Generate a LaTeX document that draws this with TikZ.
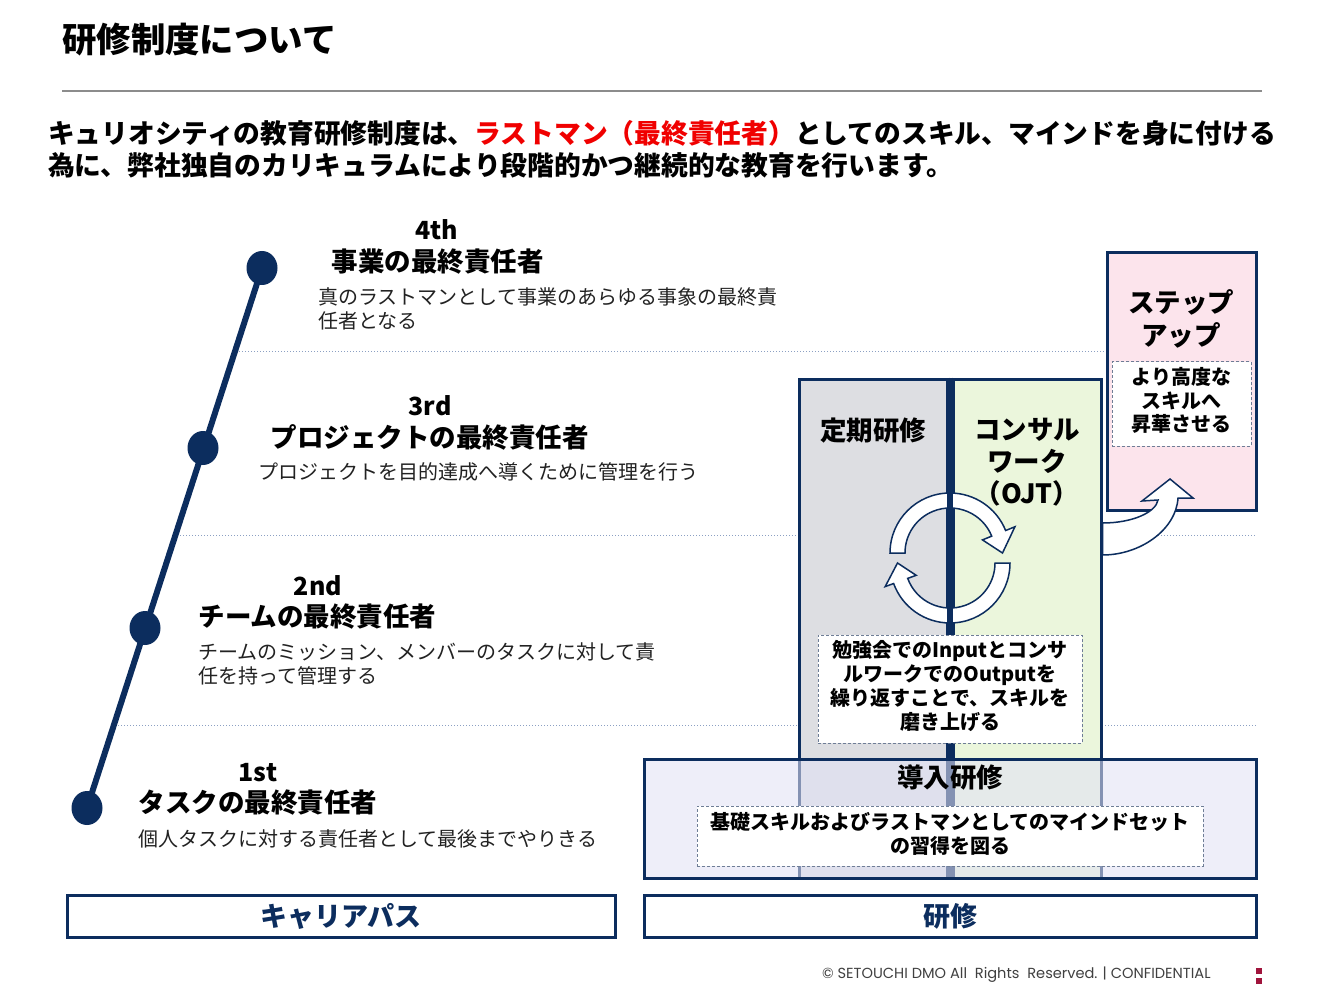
\documentclass[tikz,border=0pt]{standalone}
\usepackage{fontspec}
\setmainfont{Noto Sans CJK JP}
\newfontfamily\footfont{Poppins}
\usetikzlibrary{shapes.geometric,calc}
\definecolor{navy}{RGB}{12,45,94}
\definecolor{darktext}{RGB}{34,34,34}
\definecolor{grayfill}{RGB}{221,222,226}
\definecolor{greenfill}{RGB}{235,246,220}
\definecolor{pinkfill}{RGB}{252,228,236}
\definecolor{lavfill}{RGB}{226,226,246}
\definecolor{dotcol}{RGB}{140,160,195}
\definecolor{dashcol}{RGB}{110,125,150}
\definecolor{redtxt}{RGB}{240,0,0}
\definecolor{markred}{RGB}{160,20,60}
\definecolor{footgray}{RGB}{64,64,64}
\begin{document}
\begin{tikzpicture}[x=1pt,y=1pt,
  hd/.style={font=\bfseries\fontsize{26.5}{30}\selectfont, inner sep=0, text=black},
  num/.style={font=\bfseries\fontsize{25}{28}\selectfont, inner sep=0, text=black},
  desc/.style={font=\fontsize{20}{24.4}\selectfont, inner sep=0, align=left, anchor=west, text=darktext},
  dotline/.style={dotcol, line width=1pt, dotted},
  dot/.style={ellipse, fill=navy, inner sep=0, minimum width=31pt, minimum height=34pt},
  colbox/.style={draw=navy, line width=3pt, inner sep=0, minimum width=148pt, minimum height=499pt},
  dashbox/.style={draw=dashcol, dash pattern=on 3pt off 2pt, line width=1pt, fill=white, inner sep=0},
  boxtxt/.style={font=\bfseries\fontsize{20}{24}\selectfont, align=center, inner sep=0, text=black},
  coltitle/.style={font=\bfseries\fontsize{26.5}{32}\selectfont, align=center, inner sep=0, text=black},
  cyc/.style={fill=white, draw=navy, line width=1.5pt, line join=miter},
  labelbox/.style={draw=navy, line width=3pt, fill=white, inner sep=0, minimum height=42pt, text=navy, font=\bfseries\fontsize{27}{30}\selectfont}
]
\useasboundingbox (0,0) rectangle (1323,-992);
\fill[white] (0,0) rectangle (1323,-992);

% title
\node[anchor=west, inner sep=0, font=\bfseries\fontsize{34.4}{36}\selectfont] (title) at (62,-40) {研修制度について};
\coordinate (rl) at (62,-91);
\coordinate (rr) at (1262,-91);
\draw[gray!90, line width=1.5pt] (rl) -- (rr);
\node[anchor=west, inner sep=0, font=\bfseries\fontsize{26.75}{32}\selectfont] (sub1) at (48,-133) {キュリオシティの教育研修制度は、\textcolor{redtxt}{ラストマン（最終責任者）}としてのスキル、マインドを身に付ける};
\node[anchor=west, inner sep=0, font=\bfseries\fontsize{26.75}{32}\selectfont] (sub2) at (48,-165) {為に、弊社独自のカリキュラムにより段階的かつ継続的な教育を行います。};

% dotted separators
\coordinate (d1a) at (239,-352); \coordinate (d1b) at (1256,-352);
\coordinate (d2a) at (177,-535); \coordinate (d2b) at (1256,-535);
\coordinate (d3a) at (118,-725); \coordinate (d3b) at (1256,-725);
\draw[dotline] (d1a) -- (d1b);
\draw[dotline] (d2a) -- (d2b);
\draw[dotline] (d3a) -- (d3b);

% career path
\coordinate (p1) at (87,-808);
\coordinate (p2) at (145,-628);
\coordinate (p3) at (203,-448);
\coordinate (p4) at (262,-268);
\draw[navy, line width=6pt] (p1) -- (p4);
\node[dot] (c1) at (p1) {};
\node[dot] (c2) at (p2) {};
\node[dot] (c3) at (p3) {};
\node[dot] (c4) at (p4) {};

\node[num] (n4) at (437,-230) {4th};
\node[hd] (h4) at (437.5,-262) {事業の最終責任者};
\node[desc] (t4) at (318,-309) {真のラストマンとして事業のあらゆる事象の最終責\\任者となる};

\node[num] (n3) at (430,-406) {3rd};
\node[hd] (h3) at (429.5,-437) {プロジェクトの最終責任者};
\node[desc] (t3) at (258,-472) {プロジェクトを目的達成へ導くために管理を行う};

\node[num] (n2) at (318,-586) {2nd};
\node[hd] (h2) at (317.5,-617) {チームの最終責任者};
\node[desc] (t2) at (198,-664) {チームのミッション、メンバーのタスクに対して責\\任を持って管理する};

\node[num] (n1) at (258,-773) {1st};
\node[hd] (h1) at (258,-803) {タスクの最終責任者};
\node[desc] (t1) at (138,-839) {個人タスクに対する責任者として最後までやりきる};

% columns
\node[colbox, fill=grayfill] (col1) at (873,-628.5) {};
\node[colbox, fill=greenfill] (col2) at (1027,-628.5) {};
\node[coltitle] (col1t) at (873,-431) {定期研修};
\node[coltitle] (col2t) at (1027,-462) {コンサル\\ワーク\\（OJT）};

% cycle arrows
\coordinate (ca) at (950,-553);
\coordinate (cb) at (950,-563);
\filldraw[cyc] ($(ca)+(180:60pt)$) arc[start angle=180,end angle=22,radius=60pt] -- ($(ca)+(22:70pt)$) -- ($(ca)+(0:52.5pt)$) -- ($(ca)+(22:35pt)$) -- ($(ca)+(22:45pt)$) arc[start angle=22,end angle=180,radius=45pt] -- cycle;
\filldraw[cyc] ($(cb)+(0:60pt)$) arc[start angle=0,end angle=-160,radius=60pt] -- ($(cb)+(-160:69pt)$) -- ($(cb)+(180:52.5pt)$) -- ($(cb)+(-160:36pt)$) -- ($(cb)+(-160:45pt)$) arc[start angle=-160,end angle=0,radius=45pt] -- cycle;
\draw[navy, line width=3pt] (col1.north east) -- (col1.south east);
\draw[navy, line width=3pt] (col2.north west) -- (col2.south west);

\node[dashbox, minimum width=264pt, minimum height=108pt] (midbox) at (950,-689) {};
\node[boxtxt] (midtxt) at (950,-686) {勉強会でのInputとコンサ\\ルワークでのOutputを\\繰り返すことで、スキルを\\磨き上げる};

% step-up box
\node[draw=navy, line width=3pt, fill=pinkfill, inner sep=0, minimum width=149pt, minimum height=257pt] (step) at (1181.5,-381.5) {};
\node[coltitle, font=\bfseries\fontsize{26.5}{33}\selectfont] (stept) at (1181,-318.5) {ステップ\\アップ};
\node[dashbox, minimum width=139pt, minimum height=84pt] (stepbox) at (1181.5,-404) {};
\node[boxtxt, font=\bfseries\fontsize{20}{23.5}\selectfont] (steptxt) at (1181.5,-400.5) {より高度な\\スキルへ\\昇華させる};

% step-up arrow from the OJT column into the step-up box
\filldraw[cyc] (1102.5,-523) .. controls (1133,-523) and (1156,-512) .. (1158,-500) -- (1142,-501) -- (1170,-479) -- (1193,-498) -- (1178,-498) .. controls (1176,-530) and (1140,-555) .. (1102.5,-555) -- cycle;

% intro box
\node[draw=navy, line width=3pt, fill=lavfill, fill opacity=0.56, draw opacity=1, inner sep=0, minimum width=612pt, minimum height=119pt] (intro) at (950,-818.5) {};
\node[coltitle] (introt) at (950,-778) {導入研修};
\node[dashbox, minimum width=506pt, minimum height=60pt] (introbox) at (950,-836) {};
\node[boxtxt] (introtxt) at (950,-834) {基礎スキルおよびラストマンとしてのマインドセット\\の習得を図る};

% bottom labels
\node[labelbox, minimum width=548pt] (career) at (341,-916) {キャリアパス};
\node[labelbox, minimum width=612pt] (kenshu) at (950,-916) {研修};

% footer
\node[anchor=west, inner sep=0, text=footgray, font=\footfont\fontsize{14.6}{16}\selectfont] (foot) at (822,-975) {© SETOUCHI DMO All\ \ Rights\ \ Reserved. | CONFIDENTIAL};
\fill[markred] (1256,-968) rectangle (1262,-974);
\fill[markred] (1256,-978) rectangle (1262,-984);
\end{tikzpicture}
\end{document}
